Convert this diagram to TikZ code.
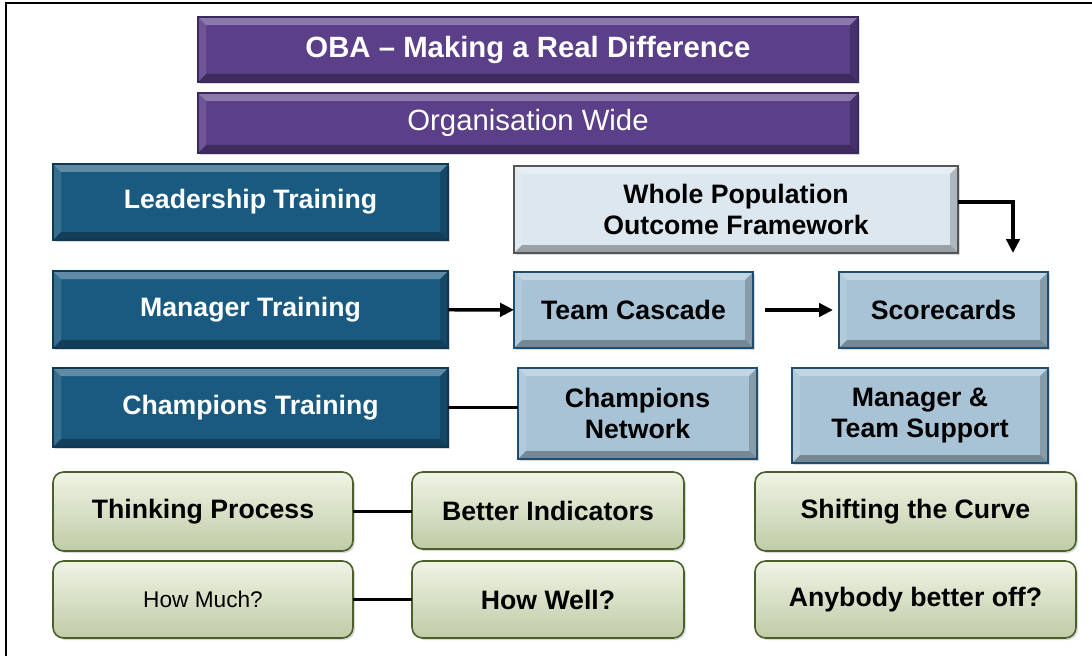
\documentclass[tikz,border=0pt]{standalone}
\usepackage{fontspec}
\setmainfont{Liberation Sans}
\usetikzlibrary{arrows.meta,shadows}
\definecolor{obapurple}{HTML}{5B3F88}
\definecolor{obapurpledark}{HTML}{3A2960}
\definecolor{trainblue}{HTML}{1A5A80}
\definecolor{trainbluedark}{HTML}{0E3954}
\definecolor{wpoflight}{HTML}{DCE7EF}
\definecolor{wpofedge}{HTML}{555555}
\definecolor{midblue}{HTML}{A8C3D5}
\definecolor{midbluedark}{HTML}{1F4E70}
\definecolor{palegreen}{HTML}{DDE6C6}
\definecolor{greenedge}{HTML}{4B5F2A}
\tikzset{
  box/.style={draw, line width=1.2pt, inner sep=0pt, outer sep=0pt, align=center,
    font=\bfseries\fontsize{20}{23}\selectfont,
    drop shadow={opacity=0.3, shadow xshift=1.5pt, shadow yshift=-1.5pt}},
  bevel/.style={path picture={
    \path (path picture bounding box.north west) coordinate (nw)
          (path picture bounding box.south east) coordinate (se);
    \fill[white, opacity=0.3] (nw) -- (nw -| se) -- ([shift={(-6pt,-6pt)}]nw -| se) -- ([shift={(6pt,-6pt)}]nw) -- cycle;
    \fill[white, opacity=0.12] (nw) -- (nw |- se) -- ([shift={(6pt,6pt)}]nw |- se) -- ([shift={(6pt,-6pt)}]nw) -- cycle;
    \fill[black, opacity=0.3] (se) -- (se -| nw) -- ([shift={(6pt,6pt)}]se -| nw) -- ([shift={(-6pt,6pt)}]se) -- cycle;
    \fill[black, opacity=0.2] (se) -- (se |- nw) -- ([shift={(-6pt,-6pt)}]se |- nw) -- ([shift={(-6pt,6pt)}]se) -- cycle;
  }},
  purplebox/.style={box, bevel, fill=obapurple, draw=obapurpledark, text=white},
  trainbox/.style={box, bevel, fill=trainblue, draw=trainbluedark, text=white},
  wpofbox/.style={box, bevel, fill=wpoflight, draw=wpofedge},
  bluebox/.style={box, bevel, fill=midblue, draw=midbluedark},
  greenbox/.style={box, rounded corners=8pt, draw=greenedge,
    top color=palegreen!45!white, middle color=palegreen, bottom color=palegreen!80!greenedge},
  link/.style={line width=2.6pt},
  flow/.style={link, -{Triangle[length=10.5pt,width=10pt]}}
}
\begin{document}
\begin{tikzpicture}[x=0.75pt, y=-0.75pt]
\useasboundingbox (0,0) rectangle (1092,656);
\draw[line width=1.5pt] (6,656) -- (6,3) -- (1092,3);

\node[purplebox, minimum width=495pt, minimum height=48.75pt, font=\bfseries\fontsize{22}{26}\selectfont] (oba) at (528,49.5) {OBA -- Making a Real Difference};
\node[purplebox, minimum width=495pt, minimum height=45pt, font=\fontsize{22}{26}\selectfont] (org) at (528,123) {Organisation Wide};

\node[trainbox, minimum width=296.25pt, minimum height=57pt] (lead) at (250.5,202) {Leadership Training};
\node[trainbox, minimum width=296.25pt, minimum height=57.75pt] (mgr) at (250.5,309.5) {Manager Training};
\node[trainbox, minimum width=296.25pt, minimum height=59.25pt] (champ) at (250.5,407.5) {Champions Training};

\node[wpofbox, minimum width=333pt, minimum height=65.25pt] (wpof) at (736,209.5) {Whole Population\\Outcome Framework};
\node[bluebox, minimum width=179.25pt, minimum height=57pt] (cascade) at (633.5,310) {Team Cascade};
\node[bluebox, minimum width=156.75pt, minimum height=57pt] (score) at (943.5,310) {Scorecards};
\node[bluebox, minimum width=179.25pt, minimum height=68.25pt] (network) at (637.5,413.5) {Champions\\Network};
\node[bluebox, minimum width=192pt, minimum height=71.25pt] (support) at (920,415.5) {Manager \&\\Team Support};

\node[greenbox, minimum width=225pt, minimum height=59.25pt] (think) at (203,511.5) {Thinking Process};
\node[greenbox, minimum width=204pt, minimum height=57.75pt] (better) at (548,510.5) {Better Indicators};
\node[greenbox, minimum width=240.75pt, minimum height=59.25pt] (shift) at (915.5,511.5) {Shifting the Curve};
\node[greenbox, minimum width=225pt, minimum height=57.75pt, font=\fontsize{17}{20}\selectfont] (much) at (203,599.5) {How Much?};
\node[greenbox, minimum width=204pt, minimum height=57.75pt] (well) at (548,599.5) {How Well?};
\node[greenbox, minimum width=240.75pt, minimum height=57.75pt] (anybody) at (915.5,599.5) {Anybody better off?};

\coordinate (wpoftip) at (1013,253);
\draw[flow] (mgr) -- (cascade);
\draw[flow, shorten <=9pt, shorten >=4.5pt] (cascade) -- (score);
\draw[flow] ([yshift=5.6pt]wpof.east) -| (wpoftip);
\draw[link] (champ.east) -- (network.west |- champ.east);
\draw[link] (think) -- (better.west |- think);
\draw[link] (much) -- (well);
\end{tikzpicture}
\end{document}
